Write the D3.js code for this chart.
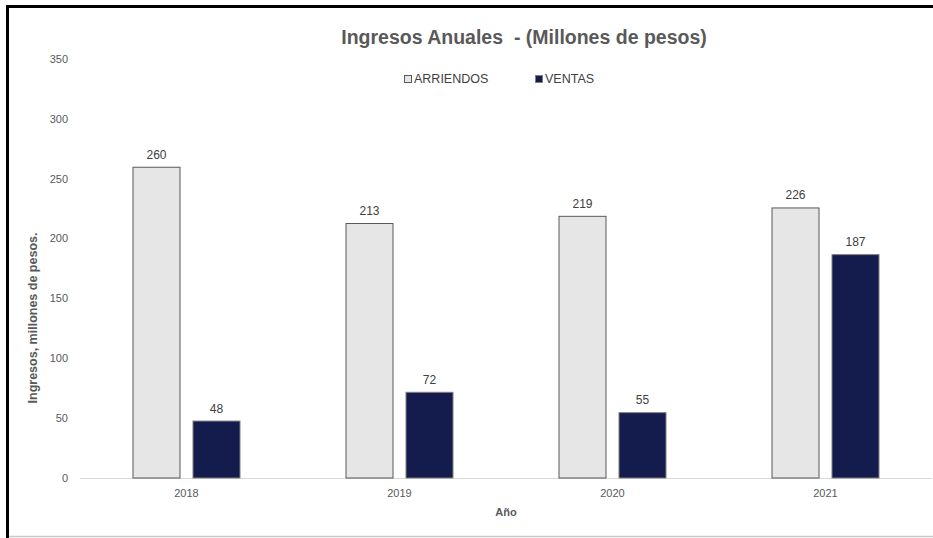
<!DOCTYPE html>
<html>
<head>
<meta charset="utf-8">
<script src="https://cdn.jsdelivr.net/npm/d3@7"></script>
<style>
  html, body { margin: 0; padding: 0; background: #fff; }
  svg { display: block; font-family: "Liberation Sans", Arial, sans-serif; }
</style>
</head>
<body>
<script>
// Annual income, millions of pesos
const years = ["2018", "2019", "2020", "2021"];
const arriendos = [260, 213, 219, 226];
const ventas = [48, 72, 55, 187];
const seriesNames = ["ARRIENDOS", "VENTAS"];
const yTicks = [0, 50, 100, 150, 200, 250, 300, 350];

const W = 933, H = 538;
const margin = { left: 80, right: 1, top: 59, bottom: 60 };
const colors = { ARRIENDOS: "#e7e6e6", VENTAS: "#141b4d" };
const strokes = { ARRIENDOS: "#595959", VENTAS: "#7f7f7f" };

const svg = d3.select("body").append("svg").attr("width", W).attr("height", H);

// frame lines
svg.append("rect").attr("x", 0).attr("y", 0).attr("width", W).attr("height", H).attr("fill", "#fff");
svg.append("line").attr("x1", 6).attr("x2", W).attr("y1", 6.5).attr("y2", 6.5)
  .attr("stroke", "#000").attr("stroke-width", 3);
svg.append("line").attr("x1", 7.5).attr("x2", 7.5).attr("y1", 5).attr("y2", H)
  .attr("stroke", "#000").attr("stroke-width", 3);
svg.append("line").attr("x1", 9).attr("x2", W).attr("y1", 536.5).attr("y2", 536.5)
  .attr("stroke", "#c8c8c8").attr("stroke-width", 1.5);

const x0 = d3.scaleBand().domain(years).range([margin.left, W - margin.right]).paddingInner(0).paddingOuter(0);
const x1 = d3.scaleBand().domain(seriesNames).range([52.5, 213 - 52.5]).paddingInner(0.2);
const y = d3.scaleLinear().domain([0, 350]).range([H - margin.bottom, margin.top]);

// y tick labels
svg.append("g").selectAll("text").data(yTicks).join("text")
  .attr("x", 68).attr("y", d => y(d)).attr("dy", "0.35em")
  .attr("text-anchor", "end").attr("font-size", 11).attr("fill", "#595959")
  .text(d => d);

// baseline
svg.append("line").attr("x1", margin.left).attr("x2", W - 1)
  .attr("y1", y(0) + 0.5).attr("y2", y(0) + 0.5)
  .attr("stroke", "#d9d9d9").attr("stroke-width", 1);

const data = years.map((yr, i) => ({ year: yr, values: [
  { key: "ARRIENDOS", value: arriendos[i] },
  { key: "VENTAS", value: ventas[i] }
]}));

const groups = svg.append("g").selectAll("g").data(data).join("g")
  .attr("transform", d => `translate(${x0(d.year)},0)`);

groups.selectAll("rect").data(d => d.values).join("rect")
  .attr("x", d => x1(d.key) + 0.5)
  .attr("y", d => y(d.value) + 0.5)
  .attr("width", x1.bandwidth() - 1)
  .attr("height", d => y(0) - y(d.value) - 0.5)
  .attr("fill", d => colors[d.key])
  .attr("stroke", d => strokes[d.key])
  .attr("stroke-width", 1);

groups.selectAll("text.val").data(d => d.values).join("text")
  .attr("class", "val")
  .attr("x", d => x1(d.key) + x1.bandwidth() / 2)
  .attr("y", d => y(d.value) - 8)
  .attr("text-anchor", "middle").attr("font-size", 12).attr("fill", "#404040")
  .text(d => d.value);

// x category labels
svg.append("g").selectAll("text").data(years).join("text")
  .attr("x", d => x0(d) + x0.bandwidth() / 2).attr("y", 497)
  .attr("text-anchor", "middle").attr("font-size", 11).attr("fill", "#595959")
  .text(d => d);

// axis titles
svg.append("text").attr("x", 506).attr("y", 516)
  .attr("text-anchor", "middle").attr("font-size", 11).attr("font-weight", "bold")
  .attr("fill", "#595959").text("Año");

svg.append("text")
  .attr("transform", "translate(37,318) rotate(-90)")
  .attr("text-anchor", "middle").attr("font-size", 12.5).attr("font-weight", "bold")
  .attr("fill", "#595959").text("Ingresos, millones de pesos.");

// title
svg.append("text").attr("x", 524).attr("y", 44)
  .attr("text-anchor", "middle").attr("font-size", 19.5).attr("font-weight", "bold")
  .attr("fill", "#595959").attr("xml:space", "preserve")
  .text("Ingresos Anuales  - (Millones de pesos)");

// legend
const legendItems = [
  { key: "ARRIENDOS", x: 404 },
  { key: "VENTAS", x: 535 }
];
const lg = svg.append("g").selectAll("g").data(legendItems).join("g")
  .attr("transform", d => `translate(${d.x},75)`);
lg.append("rect").attr("x", 0.5).attr("y", 0.5).attr("width", 7).attr("height", 7)
  .attr("fill", d => colors[d.key]).attr("stroke", d => strokes[d.key]);
lg.append("text").attr("x", 10).attr("y", 4).attr("dy", "0.35em")
  .attr("font-size", 12.5).attr("fill", "#404040").text(d => d.key);
</script>
</body>
</html>
